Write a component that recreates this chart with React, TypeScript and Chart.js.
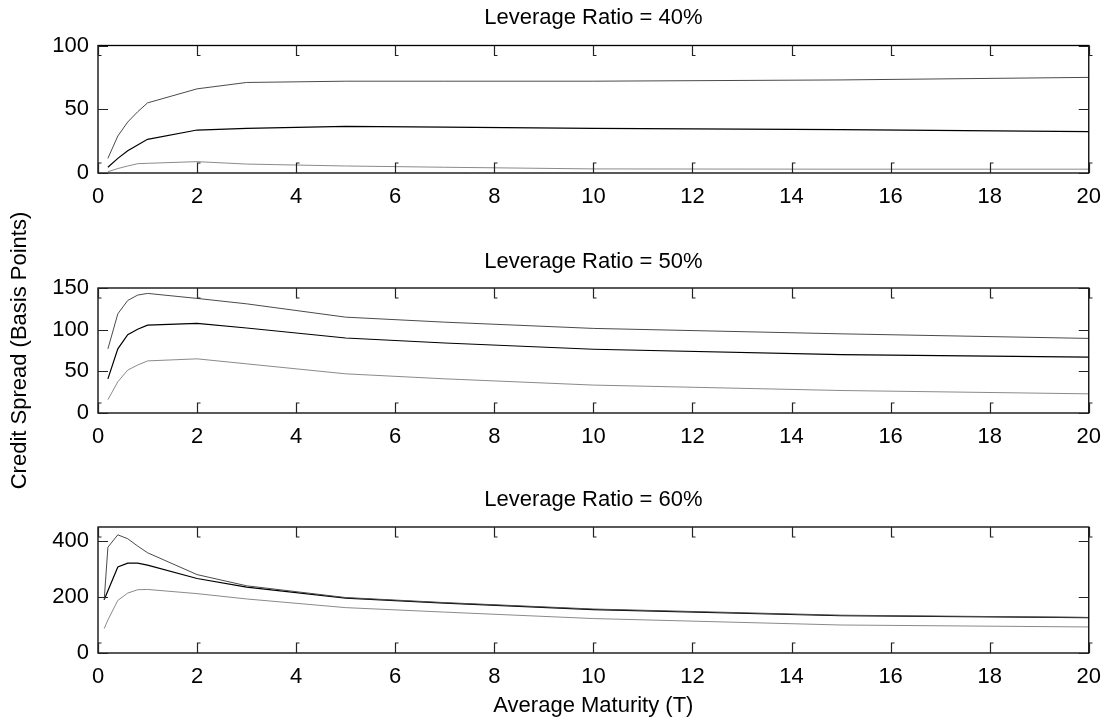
import React, { useEffect, useRef } from 'react';
import { Chart, registerables } from 'chart.js';

Chart.register(...registerables);

// ---- data ----
const maturities = [0.2, 0.4, 0.6, 0.8, 1, 2, 3, 5, 7, 10, 15, 20];
const maturities60 = [0.125, 0.2, 0.4, 0.6, 0.8, 1, 2, 3, 5, 7, 10, 15, 20];

const high40 = [11.5, 29, 40, 48, 55, 66, 71, 72, 72, 72, 73, 75];
const mid40 = [4.5, 11.5, 17.5, 22, 26.4, 33.7, 35, 36.5, 36, 35, 34, 32.4];
const low40 = [1, 3.5, 5.5, 7.3, 7.6, 8.9, 7, 5.5, 4.5, 3.2, 3, 3];

const high50 = [77, 119, 135, 141.5, 143.5, 137.5, 131, 115, 109, 101.5, 95, 89.5];
const mid50 = [41, 77, 94, 100.5, 105.5, 107.5, 102, 90, 84, 76.5, 70, 67];
const low50 = [16, 37.5, 51.5, 57.5, 62.5, 65, 59, 47, 41, 33.5, 27, 23];

const high60 = [190, 378, 422, 408, 382, 358, 280, 240, 198, 180, 157, 135, 127];
const mid60 = [190, 222, 307, 321, 321, 314, 266, 235, 196, 178, 155, 133, 126];
const low60 = [87, 118, 188, 214, 226, 227, 212, 193, 162, 146, 123, 100, 93];

const xTickValues = [0, 2, 4, 6, 8, 10, 12, 14, 16, 18, 20];
const yTicks40 = [0, 50, 100];
const yTicks50 = [0, 50, 100, 150];
const yTicks60 = [0, 200, 400];
const yMax = [100, 150, 450];

const titles = ['Leverage Ratio = 40%', 'Leverage Ratio = 50%', 'Leverage Ratio = 60%'];
const yAxisLabel = 'Credit Spread (Basis Points)';
const xAxisLabel = 'Average Maturity (T)';

// ---- styling / layout ----
const FONT = 'Liberation Sans, Arial, Helvetica, sans-serif';
const FS = 22;
const W = 1112;
const H = 724;
const LEFT = 98;
const RIGHT = 1092.5;
const panels = [
  { top: 45.5, bottom: 173, titleY: 18 },
  { top: 288, bottom: 413, titleY: 262 },
  { top: 527, bottom: 653, titleY: 500 },
];

const colHigh = '#4a4a4a';
const colMid = '#000000';
const colLow = '#8a8a8a';

const boxPlugin = {
  id: 'matlabBox',
  afterDraw(chart: any) {
    const { ctx, chartArea: a, scales } = chart;
    const xs = scales.x;
    const ys = scales.y;
    ctx.save();
    ctx.strokeStyle = '#000';
    ctx.lineWidth = 1.3;
    ctx.strokeRect(a.left, a.top, a.right - a.left, a.bottom - a.top);
    ctx.lineWidth = 1.2;
    ctx.strokeStyle = '#222';
    const tl = 10;
    ctx.beginPath();
    xTickValues.forEach((v) => {
      const px = Math.round(xs.getPixelForValue(v)) + 0.5;
      ctx.moveTo(px, a.top);
      ctx.lineTo(px, a.top + tl);
      ctx.lineTo(px + 3, a.top + tl);
      ctx.moveTo(px, a.bottom);
      ctx.lineTo(px, a.bottom - tl);
      ctx.lineTo(px + 3, a.bottom - tl);
    });
    (ys.ticks || []).forEach((t: any) => {
      const py = Math.round(ys.getPixelForValue(t.value)) + 0.5;
      ctx.moveTo(a.left, py);
      ctx.lineTo(a.left + tl, py);
      ctx.moveTo(a.right, py);
      ctx.lineTo(a.right - tl, py);
    });
    ctx.stroke();
    ctx.restore();
  },
};

function makeConfig(i: number): any {
  const p = panels[i];
  const xs = i === 2 ? maturities60 : maturities;
  const series = [
    [high40, mid40, low40],
    [high50, mid50, low50],
    [high60, mid60, low60],
  ][i];
  const yTicks = [yTicks40, yTicks50, yTicks60][i];
  const lineH = FS * 1.2;
  const titlePadTop = 4.8;
  const padTop = p.titleY - titlePadTop - lineH / 2;
  const titlePadBottom = p.top - padTop - titlePadTop - lineH;
  const xHeight = i === 2 ? 66 : 32;
  const padBottom = H - p.bottom - xHeight;
  const colors = [colHigh, colMid, colLow];

  return {
    type: 'line',
    data: {
      datasets: series.map((s, k) => ({
        data: xs.map((x, j) => ({ x, y: s[j] })),
        borderColor: colors[k],
        borderWidth: k === 1 ? 1.2 : 1,
        pointRadius: 0,
        fill: false,
        tension: 0,
      })),
    },
    options: {
      animation: false,
      responsive: false,
      events: [],
      devicePixelRatio: 1,
      layout: { padding: { top: padTop, bottom: padBottom, left: 0, right: W - RIGHT } },
      plugins: {
        legend: { display: false },
        tooltip: { enabled: false },
        title: {
          display: true,
          fullSize: false,
          text: titles[i],
          color: '#000',
          font: { family: FONT, size: FS, weight: 'normal', lineHeight: 1.2 },
          padding: { top: titlePadTop, bottom: titlePadBottom },
        },
      },
      scales: {
        x: {
          type: 'linear',
          min: 0,
          max: 20,
          afterBuildTicks: (s: any) => {
            s.ticks = xTickValues.map((v) => ({ value: v }));
          },
          afterFit: (s: any) => {
            s.height = xHeight;
          },
          ticks: {
            color: '#000',
            font: { family: FONT, size: FS },
            padding: 11,
            maxRotation: 0,
            autoSkip: false,
          },
          grid: { display: false, drawTicks: false },
          border: { display: false },
          title: {
            display: i === 2,
            text: xAxisLabel,
            color: '#000',
            font: { family: FONT, size: FS },
            padding: { top: 2, bottom: 0 },
          },
        },
        y: {
          type: 'linear',
          min: 0,
          max: yMax[i],
          afterBuildTicks: (s: any) => {
            s.ticks = yTicks.map((v) => ({ value: v }));
          },
          afterFit: (s: any) => {
            s.width = LEFT;
          },
          ticks: {
            color: '#000',
            font: { family: FONT, size: FS },
            padding: 9,
          },
          grid: { display: false, drawTicks: false },
          border: { display: false },
          title: {
            display: i === 1,
            text: yAxisLabel,
            color: '#000',
            font: { family: FONT, size: FS },
            padding: { top: 7, bottom: 0 },
          },
        },
      },
    },
    plugins: [boxPlugin],
  };
}

export default function App() {
  const r0 = useRef<HTMLCanvasElement>(null);
  const r1 = useRef<HTMLCanvasElement>(null);
  const r2 = useRef<HTMLCanvasElement>(null);

  useEffect(() => {
    const refs = [r0, r1, r2];
    const charts = refs.map((r, i) => new Chart(r.current as HTMLCanvasElement, makeConfig(i)));
    return () => charts.forEach((c) => c.destroy());
  }, []);

  const cs: React.CSSProperties = { position: 'absolute', left: 0, top: 0, width: W, height: H };
  return (
    <div style={{ position: 'fixed', left: 0, top: 0, width: W, height: H, background: '#fff' }}>
      <canvas ref={r0} width={W} height={H} style={cs} />
      <canvas ref={r1} width={W} height={H} style={cs} />
      <canvas ref={r2} width={W} height={H} style={cs} />
    </div>
  );
}
